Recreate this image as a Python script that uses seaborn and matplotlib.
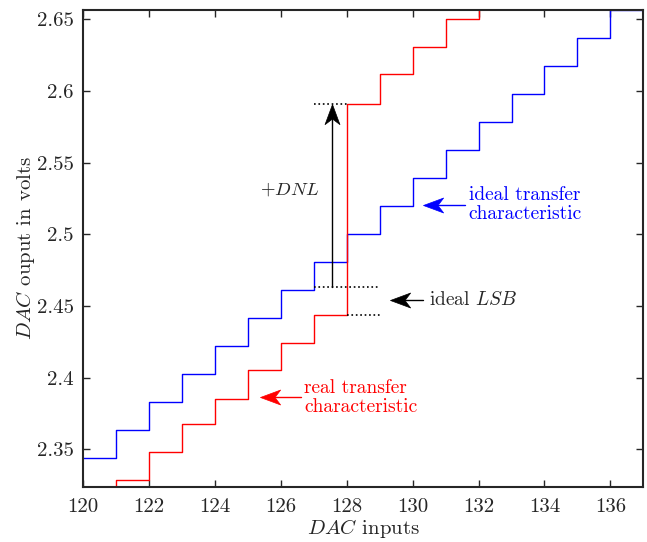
import numpy as np
import pandas as pd
import matplotlib
matplotlib.use("Agg")
import matplotlib.pyplot as plt
import seaborn as sns
from matplotlib.path import Path
from matplotlib.markers import MarkerStyle
from matplotlib.transforms import Affine2D

# DAC codes and output voltages
codes = [120, 121, 122, 123, 124, 125, 126, 127, 128, 129, 130, 131, 132, 133, 134, 135, 136, 137]
ideal_v = [2.3438, 2.3633, 2.3828, 2.4023, 2.4219, 2.4414, 2.4609, 2.4805, 2.5000,
           2.5195, 2.5391, 2.5586, 2.5781, 2.5977, 2.6172, 2.6367, 2.6563, 2.6758]
real_v = [2.3090, 2.3286, 2.3479, 2.3679, 2.3849, 2.4051, 2.4240, 2.4439, 2.5911,
          2.6118, 2.6305, 2.6504, 2.6700, 2.6900, 2.7100, 2.7300, 2.7500, 2.7700]

xticks = [120, 122, 124, 126, 128, 130, 132, 134, 136]
yticks = [2.35, 2.40, 2.45, 2.50, 2.55, 2.60, 2.65]
ytick_labels = ["2.35", "2.4", "2.45", "2.5", "2.55", "2.6", "2.65"]

# annotation levels
lsb_low = 2.4439   # real level at code 127
lsb_high = 2.4634  # one ideal LSB above it
dnl_top = 2.5911   # real level at code 128

df = pd.DataFrame({"code": codes, "ideal": ideal_v, "real": real_v})

sns.set_style("ticks")
plt.rcParams["font.family"] = ["cmr10", "DejaVu Serif"]
plt.rcParams["mathtext.fontset"] = "cm"
plt.rcParams["axes.formatter.use_mathtext"] = True

fig = plt.figure(figsize=(6.47, 5.42), dpi=100)
ax = fig.add_axes([0.1288, 0.1020, 0.8655, 0.8795])

sns.lineplot(data=df, x="code", y="ideal", drawstyle="steps-post", color="blue", lw=1.0, ax=ax)
sns.lineplot(data=df, x="code", y="real", drawstyle="steps-post", color="red", lw=1.0, ax=ax)

# dotted helper lines
ax.plot([127, 128], [dnl_top, dnl_top], ls=":", color="k", lw=1.2)
ax.plot([127, 129], [lsb_high, lsb_high], ls=":", color="k", lw=1.2)
ax.plot([128, 129], [lsb_low, lsb_low], ls=":", color="k", lw=1.2)

# matlab-like arrow head (concave back), pointing right, tip at origin
head = Path([(0, 0), (-1, 0.37), (-0.72, 0), (-1, -0.37), (0, 0)],
            [Path.MOVETO, Path.LINETO, Path.LINETO, Path.LINETO, Path.CLOSEPOLY])


def arrow(x0, y0, x1, y1, color):
    # shaft stops at the notch of the head
    ang = np.degrees(np.arctan2((y1 - y0) * 1433, (x1 - x0) * 32.94))
    dx = 14 * np.cos(np.radians(ang)) / 32.94
    dy = 14 * np.sin(np.radians(ang)) / 1433
    ax.plot([x0, x1 - dx], [y0, y1 - dy], color=color, lw=1.0)
    m = MarkerStyle(head, transform=Affine2D().rotate_deg(ang))
    ax.plot([x1], [y1], marker=m, ms=29, color=color, mec=color, mew=0.5, ls="none")


arrow(127.55, lsb_high, 127.55, dnl_top, "k")
ax.text(127.15, 2.531, r"$+DNL$", fontsize=13.5, ha="right", va="center")

arrow(130.3, 2.4544, 129.32, 2.4544, "k")
ax.text(130.5, 2.4544, r"ideal $LSB$", fontsize=14, ha="left", va="center")

arrow(131.6, 2.5207, 130.32, 2.5207, "blue")
ax.text(131.7, 2.5207, "ideal transfer\ncharacteristic", fontsize=14, color="blue",
        ha="left", va="center", linespacing=1.05)

arrow(126.6, 2.3862, 125.37, 2.3862, "red")
ax.text(126.7, 2.3862, "real transfer\ncharacteristic", fontsize=14, color="red",
        ha="left", va="center", linespacing=1.05)

ax.set_xlim(120, 137)
ax.set_ylim(2.3239, 2.6565)
ax.set_xticks(xticks)
ax.set_xticklabels([str(t) for t in xticks])
ax.set_yticks(yticks)
ax.set_yticklabels(ytick_labels)
ax.tick_params(direction="in", length=5, width=1.0, top=True, right=True,
               labelsize=15, colors="#262626")
ax.tick_params(axis="x", pad=8)
ax.tick_params(axis="y", pad=7)
for s in ax.spines.values():
    s.set_linewidth(1.5)
    s.set_color("#262626")

ax.set_xlabel(r"$DAC$ inputs", fontsize=15, labelpad=1)
ax.set_ylabel(r"$DAC$ ouput in volts", fontsize=15, labelpad=0)

fig.savefig("out.png", dpi=100)
